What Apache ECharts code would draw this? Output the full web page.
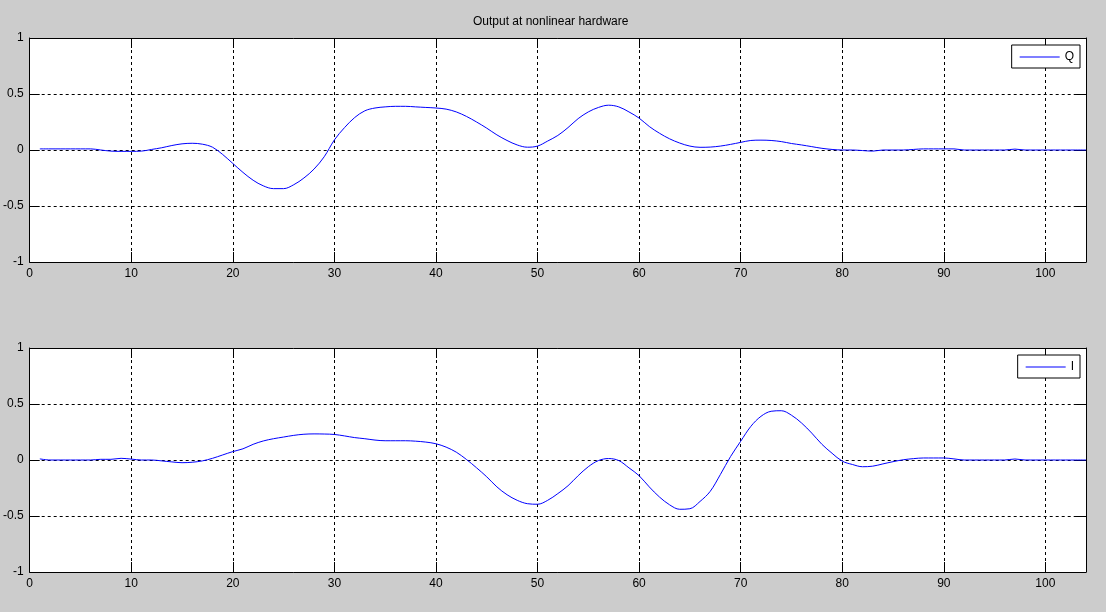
<!DOCTYPE html>
<html>
<head>
<meta charset="utf-8">
<script src="https://cdn.jsdelivr.net/npm/echarts@6/dist/echarts.min.js"></script>
<style>
html,body{margin:0;padding:0;background:#cccccc;}
#chart{width:1106px;height:612px;}
</style>
</head>
<body>
<div id="chart"></div>
<script>
// sample positions (x axis)
const xs = [];
for (let i = 1; i <= 104; i++) xs.push(i);

const titleText = 'Output at nonlinear hardware';
const seriesNames = ['Q', 'I'];
const xTickLabels = [0, 10, 20, 30, 40, 50, 60, 70, 80, 90, 100];
const yTickLabels = [-1, -0.5, 0, 0.5, 1];

// Q: top panel (values at x = 1..104)
const qValues = [
  0.01, 0.01, 0.01, 0.01, 0.01, 0.01, 0.0, -0.01, -0.012, -0.012,
  -0.01, 0.005, 0.02, 0.04, 0.055, 0.06, 0.052, 0.025, -0.04, -0.12,
  -0.2, -0.27, -0.32, -0.345, -0.345, -0.31, -0.25, -0.17, -0.06, 0.09,
  0.2, 0.29, 0.35, 0.375, 0.385, 0.39, 0.39, 0.385, 0.38, 0.375,
  0.365, 0.34, 0.3, 0.25, 0.195, 0.135, 0.085, 0.045, 0.025, 0.035,
  0.08, 0.13, 0.2, 0.28, 0.34, 0.38, 0.4, 0.385, 0.34, 0.285,
  0.21, 0.15, 0.1, 0.062, 0.035, 0.024, 0.026, 0.035, 0.05, 0.068,
  0.085, 0.088, 0.085, 0.075, 0.058, 0.045, 0.03, 0.015, 0.005, 0,
  0, -0.005, -0.01, 0, 0, 0, 0.005, 0.01, 0.01, 0.01,
  0.01, 0, 0, 0, 0, 0, 0.008, 0, 0, 0,
  0, 0, 0, 0
];

// I: bottom panel
const iValues = [
  0.01, 0, 0, 0, 0, 0, 0.006, 0.006, 0.015, 0.008,
  0, 0, -0.008, -0.017, -0.024, -0.02, -0.008, 0.015, 0.045, 0.075,
  0.1, 0.14, 0.17, 0.19, 0.205, 0.22, 0.23, 0.233, 0.232, 0.228,
  0.215, 0.2, 0.19, 0.178, 0.172, 0.172, 0.172, 0.168, 0.16, 0.145,
  0.115, 0.07, 0.005, -0.07, -0.15, -0.24, -0.31, -0.36, -0.39, -0.395,
  -0.36, -0.3, -0.23, -0.14, -0.06, -0.005, 0.013, -0.005, -0.07, -0.14,
  -0.24, -0.33, -0.4, -0.44, -0.435, -0.37, -0.28, -0.13, 0.03, 0.167,
  0.3, 0.39, 0.435, 0.44, 0.4, 0.33, 0.24, 0.14, 0.06, -0.01,
  -0.04, -0.06, -0.055, -0.035, -0.015, 0.002, 0.012, 0.018, 0.018, 0.018,
  0.01, 0, 0, 0, 0, 0, 0.009, 0, 0, 0,
  0, 0, 0, 0
];

const FONT = 'Liberation Sans, Arial, sans-serif';
const chart = echarts.init(document.getElementById('chart'), null, {renderer: 'canvas'});

const grids = [
  {left: 28, width: 1058, top: 38, height: 224},
  {left: 28, width: 1058, top: 348, height: 224}
];

const dashed = {show: true, lineStyle: {color: '#000', width: 1, type: [3, 3]}};
const tickIn = {show: true, inside: true, length: 10, lineStyle: {color: '#000', width: 1}};
const axLine = {show: true, onZero: false, lineStyle: {color: '#000', width: 1}};

const xAxes = [], yAxes = [];
grids.forEach((g, gi) => {
  xAxes.push({
    type: 'value', gridIndex: gi, position: 'bottom', min: 0, max: 104, interval: 10,
    axisLine: axLine, axisTick: tickIn, splitLine: dashed,
    axisLabel: {
      color: '#000', fontFamily: FONT, fontSize: 12, margin: 6,
      formatter: v => (xTickLabels.indexOf(v) >= 0 ? String(v) : '')
    }
  });
  xAxes.push({
    type: 'value', gridIndex: gi, position: 'top', min: 0, max: 104, interval: 10,
    axisLine: axLine, axisTick: tickIn, splitLine: {show: false}, axisLabel: {show: false}
  });
  yAxes.push({
    type: 'value', gridIndex: gi, position: 'left', min: -1, max: 1, interval: 0.5,
    axisLine: axLine, axisTick: tickIn, splitLine: dashed,
    axisLabel: {
      color: '#000', fontFamily: FONT, fontSize: 12, margin: 6,
      formatter: v => (yTickLabels.indexOf(v) >= 0 ? String(v) : '')
    }
  });
  yAxes.push({
    type: 'value', gridIndex: gi, position: 'right', min: -1, max: 1, interval: 0.5,
    axisLine: axLine, axisTick: tickIn, splitLine: {show: false}, axisLabel: {show: false}
  });
});

const legendBase = {
  orient: 'horizontal', right: 26, itemWidth: 40, itemHeight: 1, itemGap: 0,
  icon: 'rect',
  padding: [5, 6, 4, 8], borderColor: '#000', borderWidth: 1, backgroundColor: '#fff',
  borderRadius: 0, selectedMode: false,
  textStyle: {color: '#000', fontFamily: FONT, fontSize: 12, lineHeight: 14}
};

chart.setOption({
  backgroundColor: '#cccccc',
  animation: false,
  graphic: [{
    type: 'text', left: 557 - 84, top: 16,
    style: {text: titleText, fill: '#000', font: '12px ' + FONT}
  }],
  grid: grids.map(g => Object.assign({show: true, backgroundColor: '#fff', borderWidth: 0}, g)),
  xAxis: xAxes,
  yAxis: yAxes,
  legend: [
    Object.assign({}, legendBase, {top: 45, data: [seriesNames[0]]}),
    Object.assign({}, legendBase, {top: 355, data: [seriesNames[1]]})
  ],
  series: [
    {
      name: seriesNames[0], type: 'line', xAxisIndex: 0, yAxisIndex: 0,
      data: xs.map((x, i) => [x, qValues[i]]),
      symbol: 'none', smooth: 0.35, z: 5,
      lineStyle: {color: '#0000ff', width: 1}, itemStyle: {color: '#0000ff'}
    },
    {
      name: seriesNames[1], type: 'line', xAxisIndex: 2, yAxisIndex: 2,
      data: xs.map((x, i) => [x, iValues[i]]),
      symbol: 'none', smooth: 0.35, z: 5,
      lineStyle: {color: '#0000ff', width: 1}, itemStyle: {color: '#0000ff'}
    }
  ]
});
</script>
</body>
</html>
